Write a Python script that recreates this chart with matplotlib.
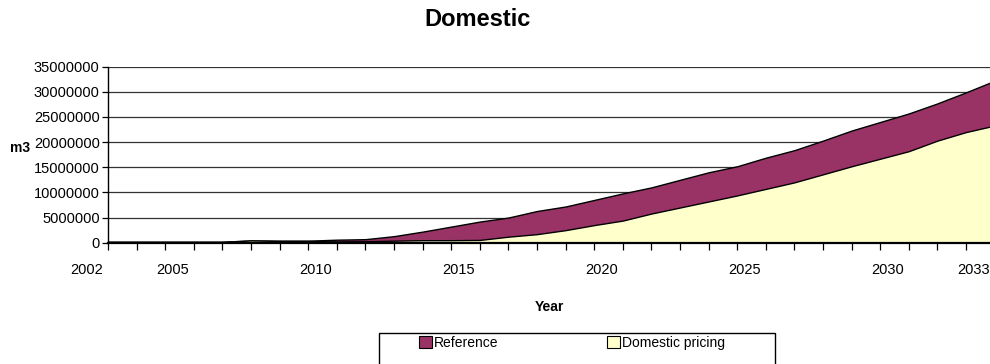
import matplotlib
matplotlib.use("Agg")
import matplotlib.pyplot as plt
import matplotlib.transforms as mtransforms
from matplotlib.patches import Patch, Rectangle

plt.rcParams['font.family'] = ['Liberation Sans', 'DejaVu Sans']

# Annual water demand, domestic sector (m3)
years = list(range(2003, 2035))
reference = [200000, 200000, 200000, 200000, 200000, 450000, 400000, 400000,
             600000, 700000, 1300000, 2200000, 3200000, 4200000, 5000000, 6300000,
             7200000, 8500000, 9800000, 11000000, 12500000, 14000000, 15200000, 16900000,
             18400000, 20300000, 22300000, 24000000, 25700000, 27700000, 29900000, 32200000]
domestic_pricing = [150000, 150000, 150000, 150000, 150000, 450000, 350000, 350000,
                    250000, 300000, 400000, 500000, 500000, 550000, 1200000, 1700000,
                    2500000, 3500000, 4400000, 5800000, 7000000, 8200000, 9400000, 10700000,
                    12000000, 13600000, 15200000, 16700000, 18200000, 20300000, 22000000, 23300000]

year_labels = [2002, 2005, 2010, 2015, 2020, 2025, 2030, 2033]
y_ticks = list(range(0, 35000001, 5000000))

series_names = ["Reference", "Domestic pricing"]
series_colors = ["#993366", "#FFFFCC"]

W, H = 990, 364
fig = plt.figure(figsize=(W / 100, H / 100), dpi=100)

# plot area placed in pixel terms
left_px, right_px, top_px, bottom_px = 108, 994.6, 66.7, 242.7
ax = fig.add_axes([left_px / W, 1 - bottom_px / H,
                   (right_px - left_px) / W, (bottom_px - top_px) / H])

ax.fill_between(years, 0, reference, facecolor=series_colors[0],
                edgecolor="black", linewidth=1.0, zorder=2)
ax.fill_between(years, 0, domestic_pricing, facecolor=series_colors[1],
                edgecolor="black", linewidth=1.0, zorder=3)

ax.set_xlim(2003, 2034)
ax.set_ylim(0, 35000000)

# horizontal gridlines
ax.set_yticks(y_ticks)
ax.set_yticklabels([str(v) for v in y_ticks], fontsize=10.5)
ax.yaxis.grid(True, color="#333333", linewidth=0.9, zorder=1)
ax.set_axisbelow(True)
ax.tick_params(axis="y", direction="out", length=4, width=0.9, pad=2)

# a tick for every year; labels drawn as text
ax.set_xticks(years)
ax.set_xticklabels([])
ax.tick_params(axis="x", direction="out", length=5, width=0.9)

lab_trans = mtransforms.offset_copy(
    mtransforms.blended_transform_factory(ax.transData, ax.transAxes),
    fig=fig, x=0, y=-27, units="dots")
for yr in year_labels:
    ax.text(yr + 0.25, 0, str(yr), transform=lab_trans, ha="center", va="center",
            fontsize=10.5, clip_on=False)

for side in ("top", "right"):
    ax.spines[side].set_visible(False)
ax.spines["left"].set_linewidth(1.0)
ax.spines["bottom"].set_linewidth(1.6)
ax.spines["bottom"].set_zorder(5)

fig.text(478 / W, 1 - 20 / H, "Domestic", ha="center", va="center",
         fontsize=17, fontweight="bold")
fig.text(549 / W, 1 - 307 / H, "Year", ha="center", va="center",
         fontsize=10, fontweight="bold")
fig.text(20 / W, 1 - 148 / H, "m3", ha="center", va="center",
         fontsize=10, fontweight="bold")

# legend frame
fig.patches.append(Rectangle((379 / W, 1 - 375 / H), (775 - 379) / W, (375 - 333) / H,
                             transform=fig.transFigure, facecolor="white",
                             edgecolor="black", linewidth=1.0, zorder=0))
handles = [Patch(facecolor=c, edgecolor="black", linewidth=0.8) for c in series_colors]
fig.legend(handles, series_names, loc="center left",
           bbox_to_anchor=(419 / W, 1 - 343 / H), ncol=2, frameon=False,
           fontsize=10, handlelength=0.9, handleheight=0.9, handletextpad=0.2,
           columnspacing=7.8, borderpad=0.0, borderaxespad=0.0)

fig.savefig("out.png", dpi=100)
